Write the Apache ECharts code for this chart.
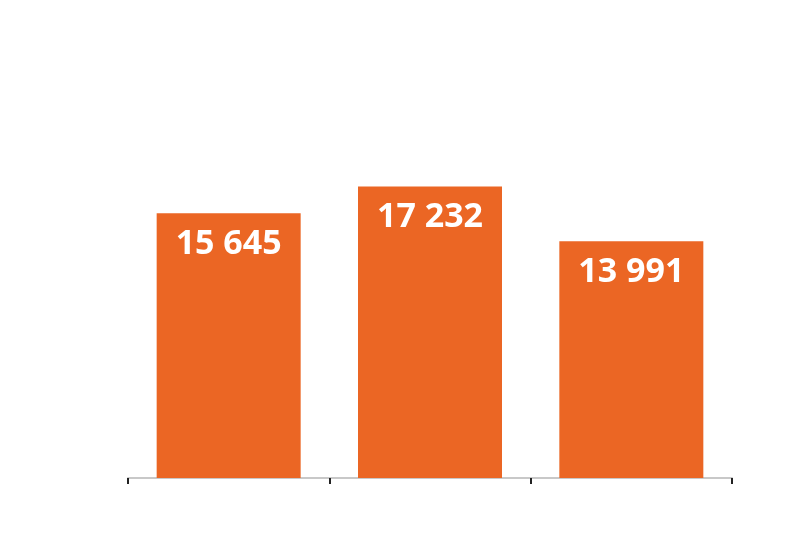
<!DOCTYPE html><html><head><meta charset="utf-8"><script src="https://cdn.jsdelivr.net/npm/echarts@6/dist/echarts.min.js"></script></head><body style="margin:0"><div id="c" style="width:800px;height:544px"></div><script>
const categories=['A','B','C'];
const values=[15645,17232,13991];
const chart=echarts.init(document.getElementById('c'));
chart.setOption({
grid:{left:128,right:68,top:55,bottom:66},
xAxis:{type:'category',data:categories,axisLabel:{show:false},axisLine:{lineStyle:{color:'#c8c8c8',width:2}},axisTick:{show:true,length:6,lineStyle:{color:'#222',width:2}}},
yAxis:{type:'value',min:0,max:25000,show:false,splitLine:{show:false}},
series:[{type:'bar',data:values,barWidth:144,itemStyle:{color:'#EB6624'},
label:{show:true,position:'insideTop',distance:14,color:'#fff',fontFamily:'Open Sans',fontWeight:'bold',fontSize:34,
formatter:p=>String(p.value).replace(/\B(?=(\d{3})+(?!\d))/g,' ')}}]
});
</script></body></html>
